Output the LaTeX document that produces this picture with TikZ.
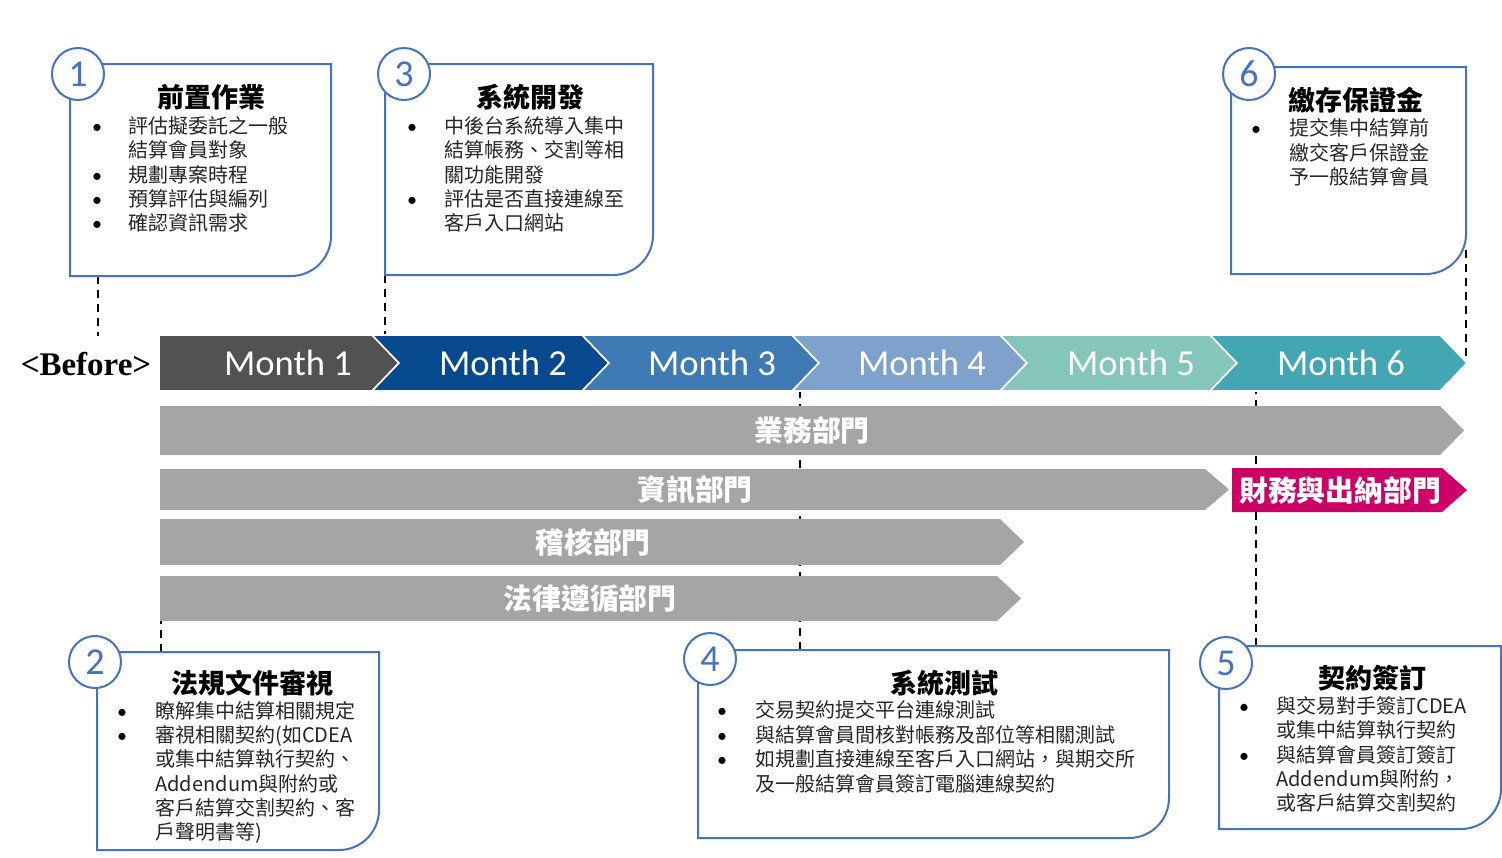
\documentclass[tikz,border=0pt]{standalone}
\usepackage{fontspec}
\setmainfont{Noto Sans CJK TC}
\newfontfamily\monthfont{Carlito}
\newfontfamily\beforefont{Liberation Serif}
\definecolor{boxblue}{HTML}{4472C4}
\definecolor{mone}{HTML}{525252}
\definecolor{mtwo}{HTML}{06498F}
\definecolor{mthree}{HTML}{3E7AB4}
\definecolor{mfour}{HTML}{7FA2CC}
\definecolor{mfive}{HTML}{85C6BB}
\definecolor{msix}{HTML}{43A6B3}
\definecolor{deptgray}{HTML}{A5A5A5}
\definecolor{deptpink}{HTML}{CC0066}
\tikzset{
	numcirc/.style={circle, draw=boxblue, line width=1pt, fill=white, minimum size=26pt, inner sep=0pt, text=boxblue, font=\monthfont\fontsize{19}{19}\selectfont},
	boxline/.style={draw=boxblue, line width=1pt, fill=white},
	boxtitle/.style={inner sep=0pt, font=\bfseries\fontsize{13.5}{14}\selectfont},
	bodytext/.style={anchor=base west, inner sep=0pt, text=black!85, font=\fontsize{10}{12}\selectfont},
	bulletdot/.style={anchor=base, inner sep=0pt, font=\monthfont\fontsize{10}{12}\selectfont},
	monthlab/.style={text=white, inner sep=0pt, font=\monthfont\fontsize{18.3}{19}\selectfont},
	deptlab/.style={text=white, inner sep=0pt, font=\bfseries\fontsize{14.4}{15}\selectfont},
	dashline/.style={dash pattern=on 4pt off 3pt, line width=0.8pt}
}
\begin{document}
\begin{tikzpicture}[x=0.5pt, y=-0.5pt]
	\useasboundingbox (0,0) rectangle (1502,857);

	% dashed links from boxes to the time line
	\coordinate (a1) at (98,276);   \coordinate (z1) at (98,336);
	\coordinate (a3) at (385,275);  \coordinate (z3) at (385,334);
	\coordinate (a6) at (1466,250); \coordinate (z6) at (1466,364);
	\coordinate (a2) at (161,652);  \coordinate (z2) at (161,621);
	\coordinate (a4) at (800,650);  \coordinate (z4) at (800,391);
	\coordinate (a5) at (1256,646); \coordinate (z5) at (1256,391);
	\foreach \k in {1,...,6}
		\draw[dashline] (a\k) -- (z\k);

	% months
	\node[font=\beforefont\bfseries\fontsize{16.5}{17}\selectfont, inner sep=0pt] (before) at (86,364) {<Before>};
	\foreach \i/\xa/\xb/\col/\xm in {1/159/372/mone/288, 2/372/582/mtwo/503, 3/582/792/mthree/712, 4/792/1000/mfour/922, 5/1000/1210/mfive/1131, 6/1210/1440/msix/1341} {
		\pgfmathsetmacro\notch{\i==1 ? 0 : 27}
		\filldraw[fill=\col, draw=white, line width=0.8pt] (\xa,335) -- (\xb,335) -- ({\xb+27},363) -- (\xb,391) -- (\xa,391) -- ({\xa+\notch},363) -- cycle;
		\node[monthlab] (m\i) at (\xm,363) {Month \i};
	}

	% departments
	\foreach \n/\ya/\yb/\xe/\lab/\xl in {1/406/455/1440/業務部門/812, 2/469/510/1205/資訊部門/695, 3/519/565/1000/稽核部門/593, 4/576/621/997/法律遵循部門/590} {
		\fill[deptgray] (160,\ya) -- (\xe,\ya) -- ({\xe+24},{(\ya+\yb)/2}) -- (\xe,\yb) -- (160,\yb) -- cycle;
		\node[deptlab] (d\n) at (\xl,{(\ya+\yb)/2}) {\lab};
	}
	\fill[deptpink] (1232,468) -- (1442,468) -- (1467,490) -- (1442,512) -- (1232,512) -- cycle;
	\node[deptlab] (d5) at (1340,490) {財務與出納部門};

	% box 1
	\draw[boxline] (70,64) -- (331,64) -- (331,236) arc[start angle=0, end angle=90, radius=40] -- (70,276) -- cycle;
	\node[numcirc] (c1) at (78,74) {1};
	\node[boxtitle] (t1) at (211,97) {前置作業};
	\foreach \b/\t [count=\k] in {1/評估擬委託之一般, 0/結算會員對象, 1/規劃專案時程, 1/預算評估與編列, 1/確認資訊需求} {
		\node[bodytext] (l1-\k) at (128,{109.25+24.25*\k}) {\t};
		\ifnum\b=1 \node[bulletdot] (u1-\k) at (97,{109.25+24.25*\k}) {•}; \fi
	}

	% box 3
	\draw[boxline] (385,64) -- (653,64) -- (653,235) arc[start angle=0, end angle=90, radius=40] -- (385,275) -- cycle;
	\node[numcirc] (c3) at (404,74) {3};
	\node[boxtitle] (t3) at (530,97) {系統開發};
	\foreach \b/\t [count=\k] in {1/中後台系統導入集中, 0/結算帳務、交割等相, 0/關功能開發, 1/評估是否直接連線至, 0/客戶入口網站} {
		\node[bodytext] (l3-\k) at (444,{109.25+24.25*\k}) {\t};
		\ifnum\b=1 \node[bulletdot] (u3-\k) at (412,{109.25+24.25*\k}) {•}; \fi
	}

	% box 6
	\draw[boxline] (1231,67) -- (1466,67) -- (1466,234) arc[start angle=0, end angle=90, radius=40] -- (1231,274) -- cycle;
	\node[numcirc] (c6) at (1249,74) {6};
	\node[boxtitle] (t6) at (1356,100) {繳存保證金};
	\foreach \b/\t [count=\k] in {1/提交集中結算前, 0/繳交客戶保證金, 0/予一般結算會員} {
		\node[bodytext] (l6-\k) at (1289,{111+24.5*\k}) {\t};
		\ifnum\b=1 \node[bulletdot] (u6-\k) at (1256,{111+24.5*\k}) {•}; \fi
	}

	% box 2
	\draw[boxline] (97,652) -- (379,652) -- (379,810) arc[start angle=0, end angle=90, radius=40] -- (97,850) -- cycle;
	\node[numcirc] (c2) at (95,662) {2};
	\node[boxtitle] (t2) at (252,683) {法規文件審視};
	\foreach \b/\t [count=\k] in {1/瞭解集中結算相關規定, 1/審視相關契約(如CDEA, 0/或集中結算執行契約、, 0/Addendum與附約或, 0/客戶結算交割契約、客, 0/戶聲明書等)} {
		\node[bodytext] (l2-\k) at (155,{694.3+24.2*\k}) {\t};
		\ifnum\b=1 \node[bulletdot] (u2-\k) at (122,{694.3+24.2*\k}) {•}; \fi
	}

	% box 4
	\draw[boxline] (698,650) -- (1169,650) -- (1169,798) arc[start angle=0, end angle=90, radius=40] -- (698,838) -- cycle;
	\node[numcirc] (c4) at (710,659) {4};
	\node[boxtitle] (t4) at (944,683) {系統測試};
	\foreach \b/\t [count=\k] in {1/交易契約提交平台連線測試, 1/與結算會員間核對帳務及部位等相關測試, 1/如規劃直接連線至客戶入口網站，與期交所, 0/及一般結算會員簽訂電腦連線契約} {
		\node[bodytext] (l4-\k) at (755,{692.8+24.67*\k}) {\t};
		\ifnum\b=1 \node[bulletdot] (u4-\k) at (722,{692.8+24.67*\k}) {•}; \fi
	}

	% box 5
	\draw[boxline] (1219,646) -- (1501,646) -- (1501,789) arc[start angle=0, end angle=90, radius=40] -- (1219,829) -- cycle;
	\node[numcirc] (c5) at (1226,663) {5};
	\node[boxtitle] (t5) at (1372,678) {契約簽訂};
	\foreach \b/\t [count=\k] in {1/與交易對手簽訂CDEA, 0/或集中結算執行契約, 1/與結算會員簽訂簽訂, 0/Addendum與附約，, 0/或客戶結算交割契約} {
		\node[bodytext] (l5-\k) at (1276,{689.25+24.25*\k}) {\t};
		\ifnum\b=1 \node[bulletdot] (u5-\k) at (1244,{689.25+24.25*\k}) {•}; \fi
	}
\end{tikzpicture}
\end{document}
